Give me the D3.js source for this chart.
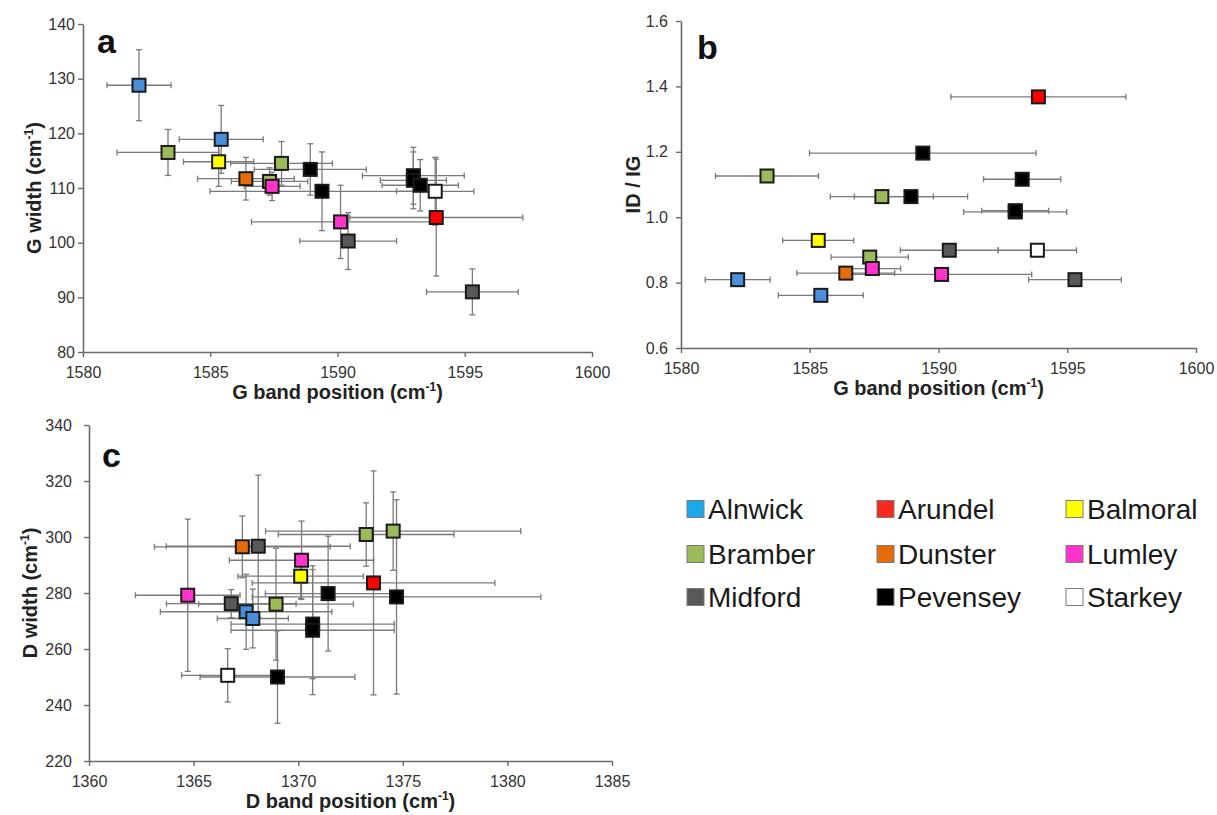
<!DOCTYPE html>
<html>
<head>
<meta charset="utf-8">
<script src="https://cdn.jsdelivr.net/npm/d3@7"></script>
<style>
  body { margin: 0; background: #fff; }
  svg { display: block; font-family: 'Liberation Sans', Arial, sans-serif; }
</style>
</head>
<body>
<svg id="chart" width="1217" height="815"></svg>
<script>
const seriesNames = ['Alnwick', 'Arundel', 'Balmoral', 'Bramber', 'Dunster', 'Lumley', 'Midford', 'Pevensey', 'Starkey'];
const markerColors = ['#4a8fdb', '#ff0000', '#ffff00', '#9bbb59', '#e46c0a', '#ff33cc', '#595959', '#000000', '#ffffff'];
const legendColors = ['#1ba8ec', '#f52a1c', '#ffff00', '#9bbb59', '#e46c0a', '#ff33cc', '#595959', '#000000', '#ffffff'];

// G band: one entry per sample (panels a and b share the x values)
const gSample = ['Alnwick', 'Alnwick', 'Arundel', 'Balmoral', 'Bramber', 'Bramber', 'Bramber', 'Dunster', 'Lumley',
  'Lumley', 'Midford', 'Midford', 'Pevensey', 'Pevensey', 'Pevensey', 'Pevensey', 'Pevensey', 'Starkey'];
const gPosition = [1582.2, 1585.43, 1593.88, 1585.33, 1583.34, 1587.33, 1587.8, 1586.4, 1587.43,
  1590.12, 1590.42, 1595.3, 1588.93, 1589.39, 1592.98, 1592.98, 1593.25, 1593.84];
const gPositionErr = [1.26, 1.65, 3.4, 1.38, 2.0, 1.5, 2.0, 1.9, 1.1,
  3.5, 1.9, 1.8, 2.2, 4.4, 2.0, 1.3, 1.5, 1.52];
const gWidth = [128.8, 118.9, 104.6, 114.8, 116.5, 111.2, 114.5, 111.7, 110.3,
  103.8, 100.3, 91.0, 113.4, 109.4, 112.25, 111.4, 110.5, 109.4];
const gWidthErr = [6.5, 6.2, 10.7, 4.5, 4.2, 2.5, 4.0, 3.9, 2.6,
  6.7, 5.2, 4.2, 4.7, 7.2, 5.2, 5.2, 4.7, 6.2];
const idIgRatio = [0.809, 0.761, 1.368, 0.929, 1.126, 0.878, 1.063, 0.829, 0.843,
  0.825, 0.899, 0.809, 1.063, 1.196, 1.016, 1.020, 1.116, 0.899];

// D band
const dSample = ['Alnwick', 'Alnwick', 'Arundel', 'Balmoral', 'Bramber', 'Bramber', 'Bramber', 'Dunster', 'Lumley',
  'Lumley', 'Midford', 'Midford', 'Pevensey', 'Pevensey', 'Pevensey', 'Pevensey', 'Pevensey', 'Starkey'];
const dPosition = [1367.51, 1367.83, 1373.6, 1370.12, 1368.94, 1373.25, 1374.54, 1367.33, 1364.72,
  1370.16, 1366.8, 1368.09, 1371.43, 1374.7, 1370.69, 1370.69, 1369.01, 1366.63];
const dPositionErr = [4.1, 1.7, 5.8, 3.0, 3.7, 4.2, 6.1, 4.2, 2.5,
  3.45, 3.1, 4.4, 3.0, 6.9, 3.9, 3.9, 3.7, 2.2];
const dWidth = [273.3, 270.9, 283.6, 286.0, 276.0, 300.9, 302.1, 296.5, 279.2,
  291.7, 276.2, 296.7, 279.8, 278.6, 268.9, 266.7, 250.0, 250.6];
const dWidthErr = [13.4, 10.5, 40, 8, 20, 11.3, 14, 11, 27.2,
  14, 5, 25.4, 20.5, 34.7, 19.5, 23, 16.5, 9.5];

const xTicksG = [1580, 1585, 1590, 1595, 1600];
const yTicksA = [80, 90, 100, 110, 120, 130, 140];
const yTicksB = [0.6, 0.8, 1.0, 1.2, 1.4, 1.6];
const xTicksD = [1360, 1365, 1370, 1375, 1380, 1385];
const yTicksC = [220, 240, 260, 280, 300, 320, 340];

const svg = d3.select('#chart');
const colorOf = name => markerColors[seriesNames.indexOf(name)];

function zip(names, xs, xErr, ys, yErr) {
  return names.map((s, i) => ({ series: s, x: xs[i], xErr: xErr[i], y: ys[i], yErr: yErr ? yErr[i] : null }));
}

function drawPanel(cfg) {
  const x = d3.scaleLinear().domain(cfg.xDomain).range(cfg.xRange);
  const y = d3.scaleLinear().domain(cfg.yDomain).range(cfg.yRange);
  const g = svg.append('g');

  const xAxis = g.append('g')
    .attr('transform', `translate(0,${cfg.yRange[0]})`)
    .call(d3.axisBottom(x).tickValues(cfg.xTicks).tickSize(5).tickSizeOuter(0).tickPadding(10).tickFormat(d3.format('d')));
  const yAxis = g.append('g')
    .attr('transform', `translate(${cfg.xRange[0]},0)`)
    .call(d3.axisLeft(y).tickValues(cfg.yTicks).tickSize(5).tickSizeOuter(0).tickPadding(cfg.yPad).tickFormat(cfg.yFormat));
  [xAxis, yAxis].forEach(a => {
    a.select('.domain').attr('stroke', '#6a6a6a').attr('stroke-width', 1.6);
    a.selectAll('.tick line').attr('stroke', '#6a6a6a').attr('stroke-width', 1.4);
    a.selectAll('.tick text').attr('fill', '#333').style('font-size', '16px');
  });

  // axis titles
  const xt = g.append('text')
    .attr('x', d3.mean(cfg.xRange)).attr('y', cfg.yRange[0] + 47)
    .attr('text-anchor', 'middle').attr('font-weight', 'bold').attr('font-size', 20).attr('fill', '#222');
  xt.append('tspan').text(cfg.xTitle + ' (cm');
  xt.append('tspan').attr('dy', -8).attr('font-size', 12).text('-1');
  xt.append('tspan').attr('dy', 8).text(')');

  const yt = g.append('text')
    .attr('transform', `translate(${cfg.yTitleX},${d3.mean(cfg.yRange)}) rotate(-90)`)
    .attr('dy', '0.35em')
    .attr('text-anchor', 'middle').attr('font-weight', 'bold').attr('font-size', 20).attr('fill', '#222');
  yt.append('tspan').text(cfg.yTitle);
  if (cfg.yUnit) {
    yt.append('tspan').text(' (cm');
    yt.append('tspan').attr('dy', -8).attr('font-size', 12).text('-1');
    yt.append('tspan').attr('dy', 8).text(')');
  }

  g.append('text')
    .attr('x', cfg.letterPos[0]).attr('y', cfg.letterPos[1])
    .attr('font-weight', 'bold').attr('font-size', 34).attr('fill', '#111')
    .text(cfg.letter);

  // error bars first, markers on top
  const cap = 3;
  const bars = g.append('g').attr('stroke', '#7a7a7a').attr('stroke-width', 1.3);
  cfg.points.forEach(p => {
    const px = x(p.x), py = y(p.y);
    const x0 = x(p.x - p.xErr), x1 = x(p.x + p.xErr);
    bars.append('line').attr('x1', x0).attr('x2', x1).attr('y1', py).attr('y2', py);
    [x0, x1].forEach(cx => bars.append('line').attr('x1', cx).attr('x2', cx).attr('y1', py - cap).attr('y2', py + cap));
    if (p.yErr != null) {
      const y0 = y(p.y - p.yErr), y1 = y(p.y + p.yErr);
      bars.append('line').attr('x1', px).attr('x2', px).attr('y1', y0).attr('y2', y1);
      [y0, y1].forEach(cy => bars.append('line').attr('x1', px - cap).attr('x2', px + cap).attr('y1', cy).attr('y2', cy));
    }
  });

  const size = 13;
  g.append('g').selectAll('rect')
    .data(cfg.points)
    .join('rect')
    .attr('x', d => x(d.x) - size / 2)
    .attr('y', d => y(d.y) - size / 2)
    .attr('width', size).attr('height', size)
    .attr('fill', d => colorOf(d.series))
    .attr('stroke', '#1a1a1a')
    .attr('stroke-width', 2);
}

drawPanel({
  xDomain: [1580, 1600], yDomain: [80, 140],
  xRange: [83, 592], yRange: [352, 24],
  xTicks: xTicksG, yTicks: yTicksA, yFormat: d3.format('d'), yPad: 3,
  xTitle: 'G band position', yTitle: 'G width', yUnit: true, yTitleX: 34,
  letter: 'a', letterPos: [97, 53],
  points: zip(gSample, gPosition, gPositionErr, gWidth, gWidthErr)
});

drawPanel({
  xDomain: [1580, 1600], yDomain: [0.6, 1.6],
  xRange: [681, 1196], yRange: [348, 21],
  xTicks: xTicksG, yTicks: yTicksB, yFormat: d3.format('.1f'), yPad: 8,
  xTitle: 'G band position', yTitle: 'ID / IG', yUnit: false, yTitleX: 633,
  letter: 'b', letterPos: [697, 59],
  points: zip(gSample, gPosition, gPositionErr, idIgRatio, null)
});

drawPanel({
  xDomain: [1360, 1385], yDomain: [220, 340],
  xRange: [89, 612], yRange: [761, 425],
  xTicks: xTicksD, yTicks: yTicksC, yFormat: d3.format('d'), yPad: 12,
  xTitle: 'D band position', yTitle: 'D width', yUnit: true, yTitleX: 30,
  letter: 'c', letterPos: [102, 467],
  points: zip(dSample, dPosition, dPositionErr, dWidth, dWidthErr)
});

// legend, three columns
const legendCols = [687, 877, 1066];
const legendRows = [509, 554, 597];
const legend = svg.append('g').selectAll('g')
  .data(seriesNames)
  .join('g')
  .attr('transform', (d, i) => `translate(${legendCols[i % 3]},${legendRows[Math.floor(i / 3)]})`);
legend.append('rect')
  .attr('x', 0).attr('y', -8.5).attr('width', 17).attr('height', 17)
  .attr('fill', (d, i) => legendColors[i])
  .attr('stroke', '#7a7a7a').attr('stroke-width', 1);
legend.append('text')
  .attr('x', 21).attr('y', 10)
  .attr('font-size', 28).attr('fill', '#1a1a1a')
  .text(d => d);
</script>
</body>
</html>
